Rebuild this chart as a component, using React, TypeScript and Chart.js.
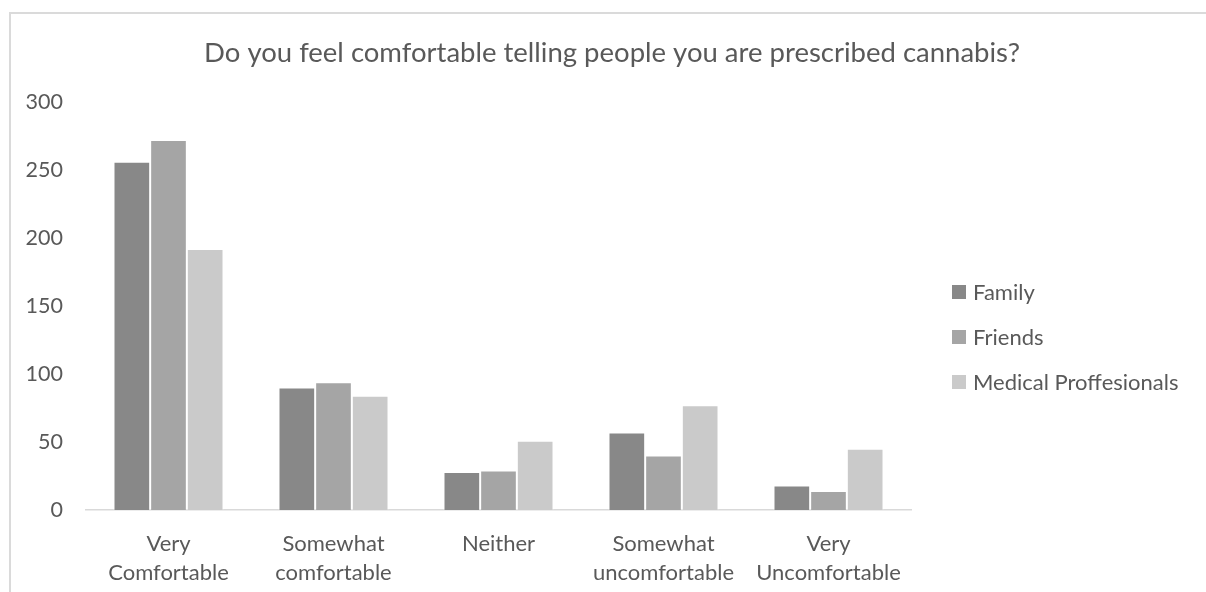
import React, { useEffect, useRef } from "react";
import { Chart, registerables } from "chart.js";

Chart.register(...registerables);

const TITLE = "Do you feel comfortable telling people you are prescribed cannabis?";
const CATEGORIES: string[][] = [
  ["Very", "Comfortable"],
  ["Somewhat", "comfortable"],
  ["Neither"],
  ["Somewhat", "uncomfortable"],
  ["Very", "Uncomfortable"],
];
const SERIES_NAMES = ["Family", "Friends", "Medical Proffesionals"];
const FAMILY = [256, 90, 28, 57, 18];
const FRIENDS = [272, 94, 29, 40, 14];
const MEDICAL = [192, 84, 51, 77, 45];
const COLORS = ["#888888", "#a5a5a5", "#cacaca"];
const Y_MIN = 0;
const Y_MAX = 300;
const Y_STEP = 50;

const FONT = "Lato, 'Open Sans', sans-serif";
const TEXT_COLOR = "#595959";

const decorPlugin = {
  id: "excelDecor",
  afterDraw(chart: any) {
    const ctx = chart.ctx as CanvasRenderingContext2D;
    const area = chart.chartArea;
    ctx.save();
    // title
    ctx.fillStyle = TEXT_COLOR;
    ctx.font = `27.5px ${FONT}`;
    ctx.textAlign = "center";
    ctx.textBaseline = "alphabetic";
    ctx.fillText(TITLE, 612, 62);
    // legend
    ctx.font = `22px ${FONT}`;
    ctx.textAlign = "left";
    ctx.textBaseline = "middle";
    const ds = chart.data.datasets;
    const startY = 292;
    const gap = 45;
    const boxX = area.right + 41;
    ds.forEach((d: any, i: number) => {
      const cy = startY + i * gap;
      ctx.fillStyle = d.backgroundColor;
      ctx.fillRect(boxX, cy - 7, 14, 14);
      ctx.fillStyle = TEXT_COLOR;
      ctx.fillText(d.label, boxX + 21, cy + 1);
    });
    ctx.restore();
  },
};

export default function App() {
  const canvasRef = useRef<HTMLCanvasElement | null>(null);

  useEffect(() => {
    document.body.style.margin = "0";
    const canvas = canvasRef.current;
    if (!canvas) return;
    const seriesData = [FAMILY, FRIENDS, MEDICAL];
    const chart = new Chart(canvas, {
      type: "bar",
      data: {
        labels: CATEGORIES,
        datasets: SERIES_NAMES.map((name, i) => ({
          label: name,
          data: seriesData[i],
          backgroundColor: COLORS[i],
          borderColor: "rgba(255,255,255,0.55)",
          borderWidth: 1,
          categoryPercentage: 0.6667,
          barPercentage: 1,
        })),
      },
      options: {
        animation: false,
        responsive: false,
        devicePixelRatio: 1,
        layout: { padding: { top: 102, right: 295, left: 0, bottom: 0 } },
        plugins: {
          legend: { display: false },
          title: { display: false },
          tooltip: { enabled: false },
        },
        scales: {
          x: {
            grid: { display: false, drawTicks: false },
            border: { display: true, color: "#d9d9d9", width: 1.5 },
            ticks: {
              color: TEXT_COLOR,
              font: { family: FONT, size: 22, lineHeight: 1.32 },
              padding: 19,
              maxRotation: 0,
              autoSkip: false,
            },
            afterFit: (s: any) => {
              s.height = 82;
            },
          },
          y: {
            min: Y_MIN,
            max: Y_MAX,
            grid: { display: false, drawTicks: false },
            border: { display: false },
            ticks: {
              stepSize: Y_STEP,
              color: TEXT_COLOR,
              font: { family: FONT, size: 21.5 },
              padding: 23,
            },
            afterFit: (s: any) => {
              s.width = 86;
            },
          },
        },
      },
      plugins: [decorPlugin],
    });
    return () => chart.destroy();
  }, []);

  return (
    <div style={{ position: "absolute", left: 0, top: 0, width: 1206, height: 592, background: "#ffffff" }}>
      <div
        style={{
          position: "absolute",
          left: 9,
          top: 12,
          width: 1197,
          height: 580,
          borderLeft: "2px solid #dadada",
          borderTop: "2px solid #dadada",
        }}
      />
      <canvas
        ref={canvasRef}
        width={1206}
        height={592}
        style={{ position: "absolute", left: 0, top: 0, width: 1206, height: 592 }}
      />
    </div>
  );
}
